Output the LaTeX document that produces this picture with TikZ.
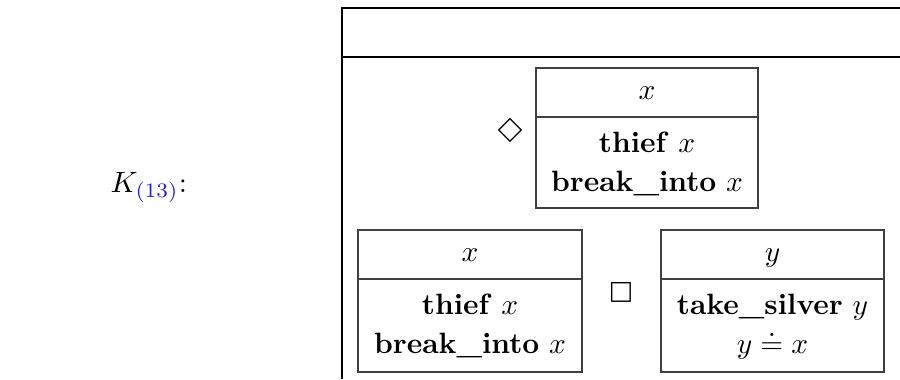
\documentclass[tikz,border=0pt]{standalone}
\usepackage{fontspec}
\usepackage{latexsym}
\usepackage{xcolor}
\definecolor{linkblue}{rgb}{0.1,0.1,0.95}
\begin{document}
\begin{tikzpicture}[x=0.3401pt,y=-0.3401pt,
  outer/.style={line width=0.5pt,black},
  inbox/.style={line width=0.4pt,black!75},
  txt/.style={inner sep=0pt,anchor=base},
  modal/.style={inner sep=0pt,font=\large}]
\useasboundingbox (0,0) rectangle (900,379);
% outer frame (cropped)
\draw[outer] (900,8) -- (342,8) -- (342,379);
\draw[outer] (342,57) -- (900,57);
% label
\node[txt,anchor=base west] (klabel) at (110,192) {$K_{\textcolor{linkblue}{(13)}}$:};
% top box
\draw[inbox] (536,68) rectangle (758,208);
\draw[inbox] (536,117) -- (758,117);
\node[txt] (t1) at (647,99) {$x$};
\node[txt] (t2) at (647,152) {\textbf{thief} $x$};
\node[txt] (t3) at (647,191) {\textbf{break\_into} $x$};
\node[modal] (dia) at (510,135) {$\Diamond$};
% bottom left box
\draw[inbox] (358,230) rectangle (582,372);
\draw[inbox] (358,279) -- (582,279);
\node[txt] (l1) at (470,261) {$x$};
\node[txt] (l2) at (470,314) {\textbf{thief} $x$};
\node[txt] (l3) at (470,353) {\textbf{break\_into} $x$};
\node[modal] (sq) at (621,297) {$\Box$};
% bottom right box
\draw[inbox] (661,230) rectangle (884,372);
\draw[inbox] (661,279) -- (884,279);
\node[txt] (r1) at (772.5,261) {$y$};
\node[txt] (r2) at (772.5,314) {\textbf{take\_silver} $y$};
\node[txt] (r3) at (772.5,353) {$y \doteq x$};
\end{tikzpicture}
\end{document}
